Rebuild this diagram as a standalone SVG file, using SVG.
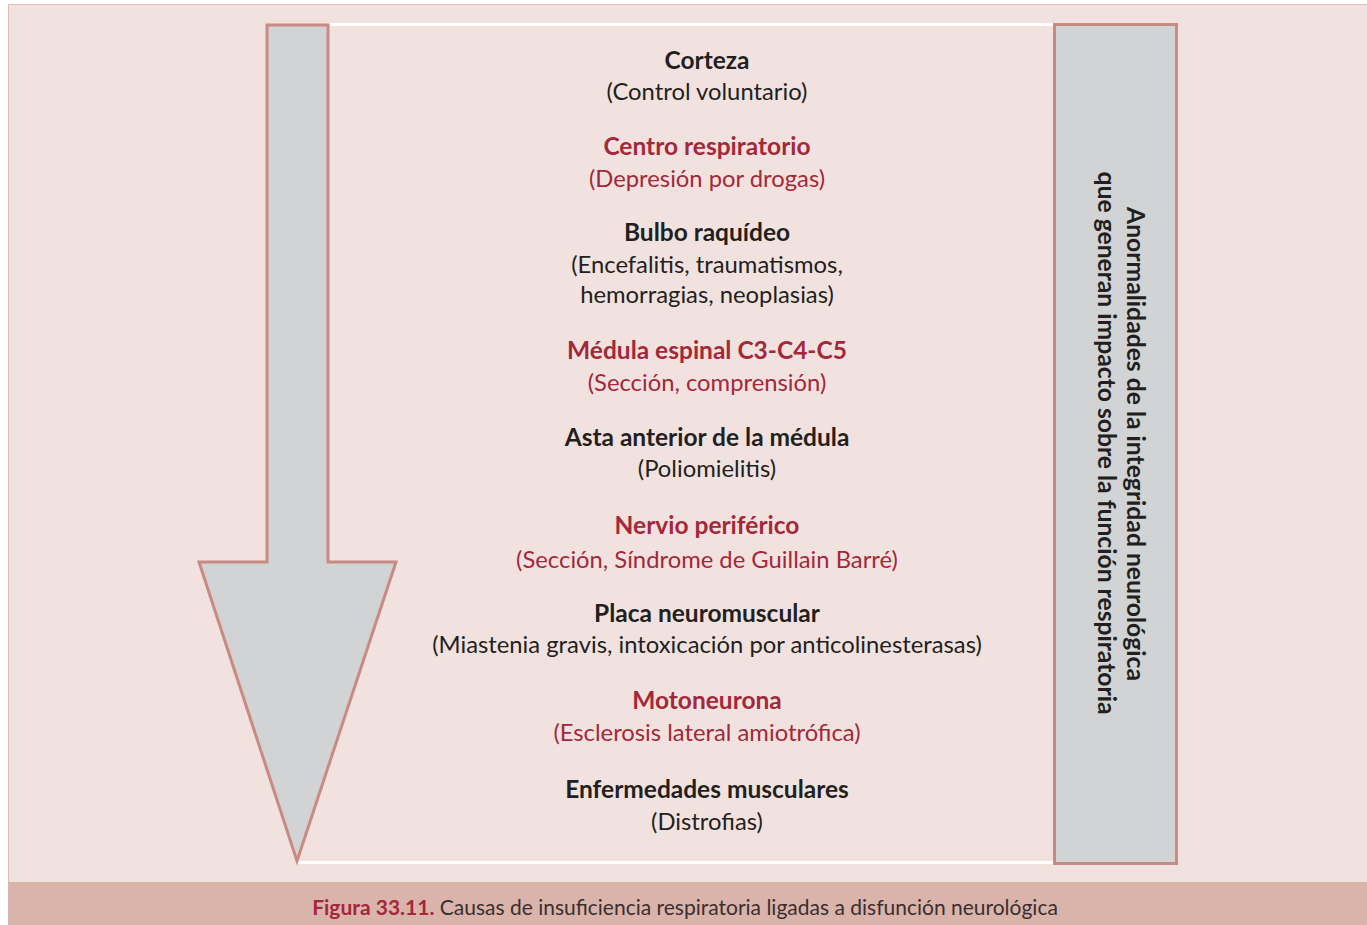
<svg xmlns="http://www.w3.org/2000/svg" width="1367" height="925" viewBox="0 0 1367 925">
  <style>
    .t { font-family: Lato, "Open Sans", "Liberation Sans", sans-serif; font-size: 23.8px; text-anchor: middle; }
    .h { font-weight: bold; font-size: 24.5px; }
    .dark { fill: #231f20; }
    .red { fill: #a3283a; }
    .frame { fill: #d1d3d5; stroke: #c98a82; stroke-width: 3; stroke-linejoin: miter; }
    .side { font-family: Lato, "Open Sans", "Liberation Sans", sans-serif; font-size: 24.7px; font-weight: bold; fill: #231f20; text-anchor: middle; }
    .cap { font-family: Lato, "Open Sans", "Liberation Sans", sans-serif; font-size: 21px; fill: #3a2f2f; text-anchor: middle; }
  </style>

  <!-- panel and caption band -->
  <rect x="8.5" y="4.5" width="1365" height="878" fill="#f2e2df" stroke="#e3bdb3" stroke-width="1"/>
  <rect x="8" y="882" width="1359" height="43" fill="#dab3aa"/>

  <!-- white rules closing the list area -->
  <g id="connectors">
    <line x1="329" y1="24.5" x2="1054" y2="24.5" stroke="#ffffff" stroke-width="3"/>
    <line x1="297" y1="862.5" x2="1054" y2="862.5" stroke="#ffffff" stroke-width="3"/>
  </g>

  <!-- downward arrow -->
  <g id="arrow">
    <polygon class="frame" points="267,25 328,25 328,562 396,562 297,861 199,562 267,562"/>
  </g>

  <!-- side box -->
  <g id="side-box">
    <rect class="frame" x="1054.5" y="24.5" width="122" height="839"/>
    <text class="side" transform="translate(1127,444) rotate(90)">Anormalidades de la integridad neurológica</text>
    <text class="side" transform="translate(1098,443) rotate(90)">que generan impacto sobre la función respiratoria</text>
  </g>

  <!-- levels -->
  <g id="corteza">
    <text class="t h dark" x="707" y="69">Corteza</text>
    <text class="t dark" x="707" y="100">(Control voluntario)</text>
  </g>
  <g id="centro-respiratorio">
    <text class="t h red" x="707" y="155">Centro respiratorio</text>
    <text class="t red" x="707" y="187">(Depresión por drogas)</text>
  </g>
  <g id="bulbo-raquideo">
    <text class="t h dark" x="707" y="241">Bulbo raquídeo</text>
    <text class="t dark" x="707" y="273">(Encefalitis, traumatismos,</text>
    <text class="t dark" x="707" y="303">hemorragias, neoplasias)</text>
  </g>
  <g id="medula-espinal">
    <text class="t h red" x="707" y="359">Médula espinal C3-C4-C5</text>
    <text class="t red" x="707" y="391">(Sección, comprensión)</text>
  </g>
  <g id="asta-anterior">
    <text class="t h dark" x="707" y="446">Asta anterior de la médula</text>
    <text class="t dark" x="707" y="477">(Poliomielitis)</text>
  </g>
  <g id="nervio-periferico">
    <text class="t h red" x="707" y="534">Nervio periférico</text>
    <text class="t red" x="707" y="568">(Sección, Síndrome de Guillain Barré)</text>
  </g>
  <g id="placa-neuromuscular">
    <text class="t h dark" x="707" y="622">Placa neuromuscular</text>
    <text class="t dark" x="707" y="653">(Miastenia gravis, intoxicación por anticolinesterasas)</text>
  </g>
  <g id="motoneurona">
    <text class="t h red" x="707" y="709">Motoneurona</text>
    <text class="t red" x="707" y="741">(Esclerosis lateral amiotrófica)</text>
  </g>
  <g id="enfermedades-musculares">
    <text class="t h dark" x="707" y="798">Enfermedades musculares</text>
    <text class="t dark" x="707" y="830">(Distrofias)</text>
  </g>

  <!-- caption -->
  <text class="cap" x="685" y="915"><tspan font-weight="bold" fill="#a3283a">Figura 33.11.</tspan> Causas de insuficiencia respiratoria ligadas a disfunción neurológica</text>
</svg>
